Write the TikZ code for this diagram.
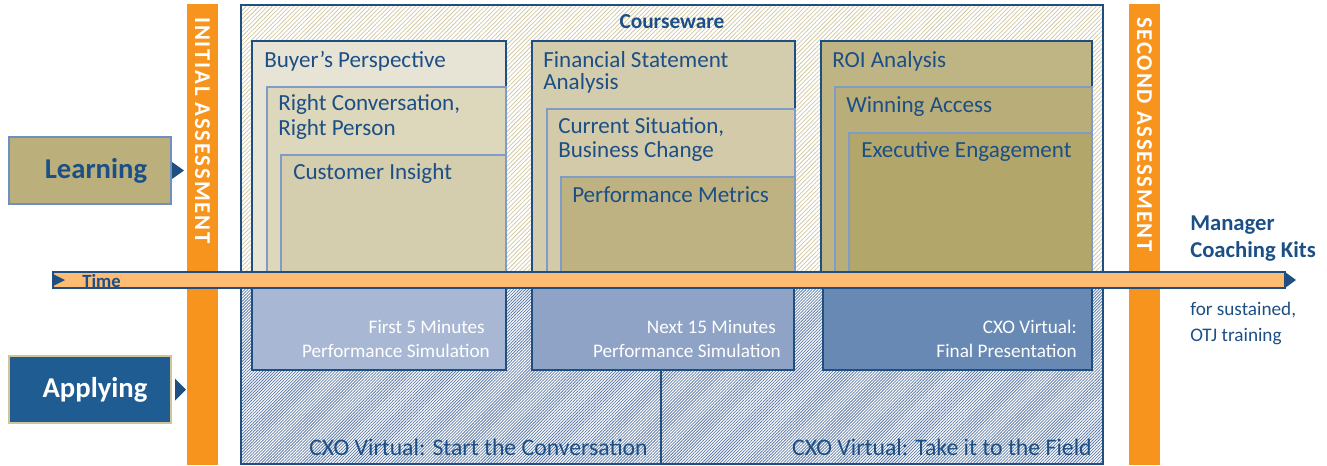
\documentclass[tikz,border=0pt]{standalone}
\usepackage{fontspec}
\setmainfont{Carlito}
\usetikzlibrary{patterns.meta,fit,calc}
\definecolor{dblue}{HTML}{1C4F86}
\definecolor{bdblue}{HTML}{1F4E80}
\definecolor{lblue}{HTML}{7E9CC6}
\definecolor{orangebar}{HTML}{F7941D}
\definecolor{timefill}{HTML}{FDBB73}
\definecolor{learnfill}{HTML}{BBAF7B}
\definecolor{learnborder}{HTML}{6F8FC0}
\definecolor{applyfill}{HTML}{1F5C91}
\definecolor{applyborder}{HTML}{CFC49A}
\definecolor{c1a}{HTML}{E8E4D5}
\definecolor{c1b}{HTML}{DDD7BB}
\definecolor{c1c}{HTML}{D4CDAE}
\definecolor{c2a}{HTML}{D4CDAD}
\definecolor{c2b}{HTML}{D2CAA8}
\definecolor{c2c}{HTML}{BEB282}
\definecolor{c3a}{HTML}{BFB483}
\definecolor{c3b}{HTML}{B9AD79}
\definecolor{c3c}{HTML}{B3A66B}
\definecolor{low1}{HTML}{A8B8D4}
\definecolor{low2}{HTML}{8FA3C6}
\definecolor{low3}{HTML}{6889B4}
\definecolor{tanhatch}{HTML}{D0C7A2}
\definecolor{bluehatch}{HTML}{5F7BA8}
\newcommand\fsbox{\fontsize{17.3}{20}\selectfont}
\newcommand\fscxo{\fontsize{17.8}{20}\selectfont}
\newcommand\fslow{\fontsize{14.4}{17.5}\selectfont}
\begin{document}
\begin{tikzpicture}[x=0.75pt,y=-0.75pt,
  rect/.style={inner sep=0pt,outer sep=0pt},
  abar/.style={rect,fill=orangebar},
  colbox/.style={rect,draw=bdblue,line width=1.2pt},
  inbox/.style={rect,draw=lblue,line width=1.1pt},
  lowbox/.style={rect,draw=bdblue,line width=1.3pt},
  ttl/.style={font=\fsbox,text=dblue,anchor=base west,inner sep=0pt},
  lowtxt/.style={font=\fslow,text=white,anchor=base east,inner sep=0pt},
  cxo/.style={font=\fscxo,text=dblue,anchor=base east,inner sep=0pt},
  vtxt/.style={font=\bfseries\fontsize{17}{19}\selectfont\addfontfeature{LetterSpace=8},text=white,rotate=-90,anchor=west,inner sep=0pt}
]
\useasboundingbox (0,0) rectangle (1327,465);

% assessment bars
\node[abar, fit={(187,4) (218,465)}] (ia) {};
\node[abar, fit={(1129,4) (1160,465)}] (sa) {};
\node[vtxt] (iat) at (202.5,17) {INITIAL ASSESSMENT};
\node[vtxt] (sat) at (1144.5,17) {SECOND ASSESSMENT};

% learning / applying
\node[rect, fit={(9,137) (171,204)}, fill=learnfill, draw=learnborder, line width=1.2pt] (learn) {};
\node[font=\bfseries\fontsize{21.5}{24}\selectfont, text=dblue] (learnt) at (96,171) {Learning};
\fill[bdblue] ($(learn.east)+(1,-8.5)$) coordinate (lta) -- ++(12,8.5) -- ++(-12,8.5) -- cycle;
\node[rect, fit={(9,356) (171,423)}, fill=applyfill, draw=applyborder, line width=1.2pt] (apply) {};
\node[font=\bfseries\fontsize{21.5}{24}\selectfont, text=white] (applyt) at (95,390) {Applying};
\fill[bdblue] ($(apply.east)+(4,-11)$) coordinate (ata) -- ++(11,11) -- ++(-11,11) -- cycle;

% courseware
\fill[white] (241,5) rectangle (1103,464);
\fill[pattern={Lines[angle=45,distance=2.3pt,line width=0.55pt]}, pattern color=tanhatch] (241,5) rectangle (1103,280);
\fill[pattern={Lines[angle=45,distance=1.6pt,line width=0.6pt]}, pattern color=bluehatch] (241,280) rectangle (1103,464);
\node[rect, draw=bdblue, line width=1.2pt, fit={(241,5) (1103,464)}] (cw) {};
\node[font=\bfseries\fontsize{16}{18}\selectfont, text=dblue] (cwt) at (672,22) {Courseware};

% column 1
\node[colbox, fill=c1a, fit={(252,41) (506,280)}] (b1a) {};
\node[inbox, fill=c1b, fit={(267,87) (506,280)}] (b1b) {};
\node[inbox, fill=c1c, fit={(281,155) (506,280)}] (b1c) {};
% column 2
\node[colbox, fill=c2a, fit={(532,41) (795,280)}] (b2a) {};
\node[inbox, fill=c2b, fit={(547,109) (795,280)}] (b2b) {};
\node[inbox, fill=c2c, fit={(561,177) (795,280)}] (b2c) {};
% column 3
\node[colbox, fill=c3a, fit={(821,41) (1092,280)}] (b3a) {};
\node[inbox, fill=c3b, fit={(835,87) (1092,280)}] (b3b) {};
\node[inbox, fill=c3c, fit={(849,133) (1092,280)}] (b3c) {};

% titles
\node[ttl] (t1a) at (264,67) {Buyer’s Perspective};
\node[ttl] (t1b) at (278,110) {Right Conversation,};
\node[ttl] (t1b2) at (278,135) {Right Person};
\node[ttl] (t1c) at (293,179) {Customer Insight};
\node[ttl] (t2a) at (543,67) {Financial Statement};
\node[ttl] (t2a2) at (543,89) {Analysis};
\node[ttl] (t2b) at (558,133) {Current Situation,};
\node[ttl] (t2b2) at (558,157) {Business Change};
\node[ttl] (t2c) at (572,202) {Performance Metrics};
\node[ttl] (t3a) at (832,67) {ROI Analysis};
\node[ttl] (t3b) at (846,112) {Winning Access};
\node[ttl] (t3c) at (861,157) {Executive Engagement};

% lower boxes
\node[lowbox, fill=low1, fit={(252,280) (506,370)}] (l1) {};
\node[lowbox, fill=low2, fit={(532,280) (794,370)}] (l2) {};
\node[lowbox, fill=low3, fit={(823,280) (1092,370)}] (l3) {};
\node[lowtxt] (l1t) at (485,333) {First 5 Minutes};
\node[lowtxt] (l1t2) at (490,357) {Performance Simulation};
\node[lowtxt] (l2t) at (776,333) {Next 15 Minutes};
\node[lowtxt] (l2t2) at (781,357) {Performance Simulation};
\node[lowtxt] (l3t) at (1077,333) {CXO Virtual:};
\node[lowtxt] (l3t2) at (1077,357) {Final Presentation};

% divider
\coordinate (dv1) at (661,370);
\coordinate (dv2) at (dv1 |- cw.south);
\draw[bdblue, line width=1.2pt] (dv1) -- (dv2);
\node[cxo] (cx1) at (648,455) {CXO Virtual: Start the Conversation};
\node[cxo] (cx2) at (1092,455) {CXO Virtual: Take it to the Field};

% time bar
\node[rect, fill=timefill, draw=bdblue, line width=0.9pt, fit={(53,272) (1285,288)}] (time) {};
\fill[bdblue] (time.north east) -- ($(time.east)+(11,0)$) coordinate (tip) -- (time.south east) -- cycle;
\fill[bdblue] ($(time.west)+(1,-5.5)$) -- ++(11,5.5) -- ++(-11,5.5) -- cycle;
\node[font=\bfseries\fontsize{14}{15}\selectfont, text=dblue, anchor=base west, inner sep=0pt] (timet) at (82,287) {Time};

% right text
\node[font=\bfseries\fontsize{17}{19}\selectfont, text=dblue, anchor=base west, inner sep=0pt] (mg1) at (1190,230) {Manager};
\node[font=\bfseries\fontsize{17}{19}\selectfont, text=dblue, anchor=base west, inner sep=0pt] (mg2) at (1190,257) {Coaching Kits};
\node[font=\fontsize{14.4}{16}\selectfont, text=dblue, anchor=base west, inner sep=0pt] (fs1) at (1190,315) {for sustained,};
\node[font=\fontsize{14.4}{16}\selectfont, text=dblue, anchor=base west, inner sep=0pt] (fs2) at (1190,341) {OTJ training};
\end{tikzpicture}
\end{document}
